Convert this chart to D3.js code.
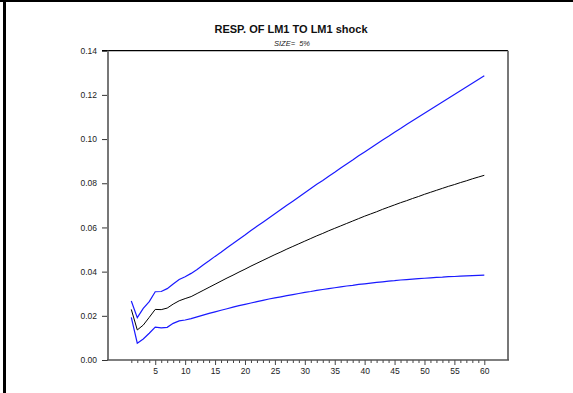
<!DOCTYPE html>
<html>
<head>
<meta charset="utf-8">
<script src="https://cdn.jsdelivr.net/npm/d3@7"></script>
<style>
  html, body { margin: 0; padding: 0; background: #fff; }
  svg { display: block; }
</style>
</head>
<body>
<svg id="chart" width="573" height="393"></svg>
<script>
// Impulse response of LM1 to an LM1 shock, with 5% error bands
const steps = d3.range(1, 61);

const response = [
  0.0229, 0.0136, 0.0158, 0.0193, 0.0229, 0.0228, 0.0235, 0.0253, 0.0268, 0.0278,
  0.0287, 0.0301, 0.0315, 0.0329, 0.0343, 0.0357, 0.0371, 0.0384, 0.0398, 0.0411,
  0.0425, 0.0438, 0.0451, 0.0464, 0.0477, 0.0489, 0.0502, 0.0514, 0.0526, 0.0538,
  0.0550, 0.0562, 0.0573, 0.0585, 0.0596, 0.0607, 0.0618, 0.0629, 0.0640, 0.0651,
  0.0661, 0.0671, 0.0682, 0.0692, 0.0702, 0.0712, 0.0721, 0.0731, 0.0740, 0.0750,
  0.0759, 0.0768, 0.0777, 0.0786, 0.0794, 0.0803, 0.0811, 0.0820, 0.0828, 0.0836
];

const upperBand = [
  0.0267, 0.0192, 0.0234, 0.0264, 0.0309, 0.0310, 0.0323, 0.0344, 0.0364, 0.0377,
  0.0392, 0.0410, 0.0430, 0.0449, 0.0469, 0.0488, 0.0508, 0.0527, 0.0547, 0.0566,
  0.0586, 0.0605, 0.0624, 0.0643, 0.0662, 0.0681, 0.0700, 0.0719, 0.0738, 0.0757,
  0.0776, 0.0795, 0.0813, 0.0832, 0.0850, 0.0869, 0.0887, 0.0905, 0.0924, 0.0942,
  0.0960, 0.0978, 0.0996, 0.1013, 0.1031, 0.1048, 0.1066, 0.1083, 0.1100, 0.1117,
  0.1134, 0.1151, 0.1168, 0.1185, 0.1202, 0.1219, 0.1236, 0.1253, 0.1270, 0.1287
];

const lowerBand = [
  0.0193, 0.0076, 0.0095, 0.0121, 0.0149, 0.0145, 0.0148, 0.0166, 0.0177, 0.0181,
  0.0187, 0.0195, 0.0203, 0.0211, 0.0218, 0.0225, 0.0232, 0.0239, 0.0246, 0.0252,
  0.0258, 0.0264, 0.0270, 0.0276, 0.0281, 0.0286, 0.0291, 0.0296, 0.0301, 0.0306,
  0.0310, 0.0315, 0.0319, 0.0323, 0.0327, 0.0331, 0.0335, 0.0338, 0.0342, 0.0345,
  0.0348, 0.0351, 0.0354, 0.0357, 0.0359, 0.0362, 0.0364, 0.0366, 0.0368, 0.0370,
  0.0372, 0.0374, 0.0375, 0.0377, 0.0378, 0.0380, 0.0381, 0.0382, 0.0383, 0.0384
];

const yTicks = [0, 0.02, 0.04, 0.06, 0.08, 0.10, 0.12, 0.14];
const xLabelTicks = [5, 10, 15, 20, 25, 30, 35, 40, 45, 50, 55, 60];

const titleText = "RESP. OF LM1 TO LM1 shock";
const subtitleText = "SIZE=  5%";

const svg = d3.select("#chart");
const font = "'Liberation Sans', Arial, sans-serif";

// page frame
svg.append("rect").attr("x", 0).attr("y", 0).attr("width", 573).attr("height", 2).attr("fill", "#000");
svg.append("rect").attr("x", 3).attr("y", 0).attr("width", 3).attr("height", 393).attr("fill", "#000");

const box = { left: 108, right: 508, top: 50.7, bottom: 360 };

const x = d3.scaleLinear().domain([1, 60]).range([131.3, 484.3]);
const y = d3.scaleLinear().domain([0, 0.14]).range([box.bottom, box.top]);

// titles
svg.append("text")
  .attr("x", 291).attr("y", 33)
  .attr("text-anchor", "middle")
  .attr("font-family", font).attr("font-weight", "bold").attr("font-size", "11px")
  .attr("fill", "#111")
  .text(titleText);

svg.append("text")
  .attr("x", 292).attr("y", 45.5)
  .attr("text-anchor", "middle")
  .attr("font-family", font).attr("font-style", "italic").attr("font-size", "7.5px")
  .attr("fill", "#222")
  .attr("xml:space", "preserve")
  .style("white-space", "pre")
  .text(subtitleText);

// left axis
const yAxis = d3.axisLeft(y).tickValues(yTicks).tickFormat(d3.format(".2f")).tickSize(6).tickPadding(5);
const gy = svg.append("g").attr("transform", `translate(${box.left},0)`).call(yAxis);
gy.select(".domain").remove();
gy.selectAll(".tick line").attr("stroke", "#333");
gy.selectAll(".tick text").attr("font-family", font).attr("font-size", "8.5px").attr("fill", "#222");

// bottom axis: unlabeled minor ticks at every step, labeled majors every 5
const xMinor = d3.axisBottom(x).tickValues(steps.filter(d => d % 5 !== 0)).tickFormat("").tickSize(3);
const gxm = svg.append("g").attr("transform", `translate(0,${box.bottom})`).call(xMinor);
gxm.select(".domain").remove();
gxm.selectAll(".tick line").attr("stroke", "#444");

const xAxis = d3.axisBottom(x).tickValues(xLabelTicks).tickFormat(d3.format("d")).tickSize(5).tickPadding(3);
const gx = svg.append("g").attr("transform", `translate(0,${box.bottom})`).call(xAxis);
gx.select(".domain").remove();
gx.selectAll(".tick line").attr("stroke", "#444");
gx.selectAll(".tick text").attr("font-family", font).attr("font-size", "8.5px").attr("fill", "#222");

// plot frame
svg.append("line").attr("x1", box.left - 6).attr("x2", box.right).attr("y1", box.top).attr("y2", box.top)
  .attr("stroke", "#000").attr("stroke-width", 1.2);
svg.append("line").attr("x1", box.left).attr("x2", box.left).attr("y1", box.top).attr("y2", box.bottom)
  .attr("stroke", "#777").attr("stroke-width", 2);
svg.append("line").attr("x1", box.right).attr("x2", box.right).attr("y1", box.top).attr("y2", box.bottom)
  .attr("stroke", "#777").attr("stroke-width", 2);
svg.append("line").attr("x1", box.left - 1).attr("x2", box.right + 1).attr("y1", box.bottom).attr("y2", box.bottom)
  .attr("stroke", "#555").attr("stroke-width", 1.5);

// series
const line = d3.line().x((d, i) => x(steps[i])).y(d => y(d));

svg.append("path").datum(upperBand).attr("d", line)
  .attr("fill", "none").attr("stroke", "#1a1aff").attr("stroke-width", 1.2);
svg.append("path").datum(lowerBand).attr("d", line)
  .attr("fill", "none").attr("stroke", "#1a1aff").attr("stroke-width", 1.2);
svg.append("path").datum(response).attr("d", line)
  .attr("fill", "none").attr("stroke", "#000").attr("stroke-width", 1);
</script>
</body>
</html>
